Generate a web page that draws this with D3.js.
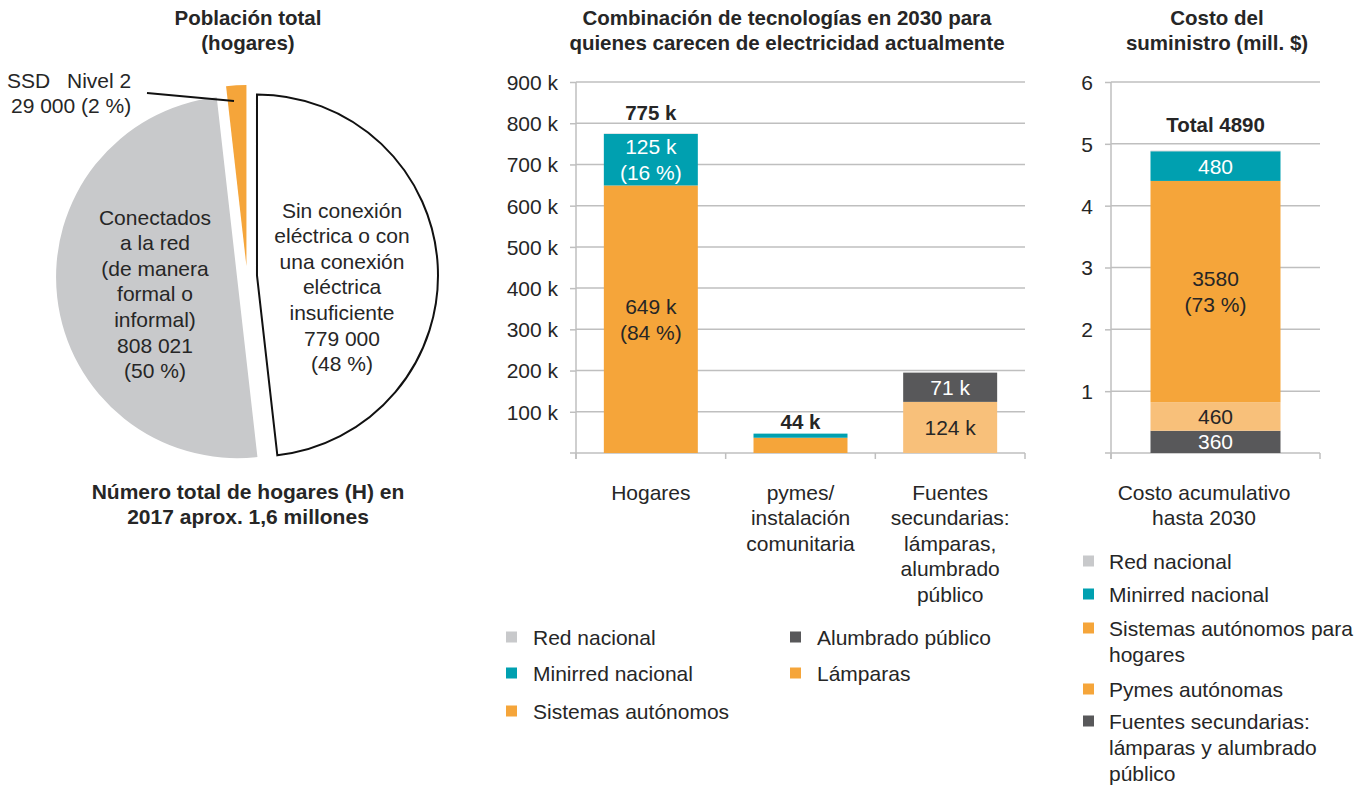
<!DOCTYPE html>
<html>
<head>
<meta charset="utf-8">
<script src="https://cdn.jsdelivr.net/npm/d3@7"></script>
<style>
body { margin: 0; background: #fff; }
svg text { font-family: "Liberation Sans", Arial, sans-serif; fill: #262626; }
.title { font-weight: bold; font-size: 20.5px; }
.lbl { font-size: 21px; }
.tick text { font-size: 21px; }
</style>
</head>
<body>
<svg id="chart" width="1366" height="787"></svg>
<script>
var colors = {
	grey: "#c8c9cb",
	teal: "#00a0b0",
	orange: "#f5a53a",
	lightorange: "#f8c07a",
	darkgrey: "#58585a",
	axis: "#bfbfbf",
	text: "#262626"
};

// pie: total households
var pieNames = ["Sin conexión", "Conectados", "SSD Nivel 2"];
var pieValues = [779000, 808021, 29000];
var pieFills = ["#ffffff", colors.grey, colors.orange];
var pieTexts = [
	["Sin conexión", "eléctrica o con", "una conexión", "eléctrica", "insuficiente", "779 000", "(48 %)"],
	["Conectados", "a la red", "(de manera", "formal o", "informal)", "808 021", "(50 %)"],
	[]
];

// middle chart: technology mix 2030 (thousands)
var midCategories = ["Hogares", "pymes", "Fuentes"];
var midCatLabels = [["Hogares"], ["pymes/", "instalación", "comunitaria"], ["Fuentes", "secundarias:", "lámparas,", "alumbrado", "público"]];
var midSistemas = [649, 37, 0];
var midLamparas = [0, 0, 124];
var midAlumbrado = [0, 0, 71];
var midMinirred = [125, 10, 0];
var midRed = [1, 0, 0];
var midTotals = ["775 k", "44 k", ""];
var midTicks = [100, 200, 300, 400, 500, 600, 700, 800, 900];

// right chart: cost (mill. $)
var costCategory = ["Costo acumulativo hasta 2030"];
var costFuentes = [360];
var costPymes = [460];
var costSistemas = [3580];
var costMinirred = [480];
var costRed = [10];
var costTicks = [1, 2, 3, 4, 5, 6];

var svg = d3.select("#chart");

function multiText(g, lines, x, y, lh, cls, fill){
	var t = g.append("text").attr("class", cls).attr("text-anchor", "middle");
	if (fill) t.style("fill", fill);
	lines.forEach(function(l, i){
		t.append("tspan").attr("x", x).attr("y", y + i * lh).text(l);
	});
	return t;
}

// ---------- PIE ----------
var pieG = svg.append("g").attr("transform", "translate(247,276)");
var radius = 181, explode = 10;
var pie = d3.pie().sort(null).startAngle(0).endAngle(2 * Math.PI);
var arc = d3.arc().innerRadius(0).outerRadius(radius);
var arcs = pie(pieValues);

arcs.forEach(function(d, i){
	var mid = (d.startAngle + d.endAngle) / 2;
	var dx = Math.sin(mid) * explode, dy = -Math.cos(mid) * explode;
	pieG.append("path")
		.attr("d", arc(d))
		.attr("transform", "translate(" + dx + "," + dy + ")")
		.style("fill", pieFills[i])
		.style("stroke", i == 0 ? "#111" : "none")
		.style("stroke-width", 2)
		.style("stroke-linejoin", "miter");
});

multiText(svg, pieTexts[0], 342, 217.5, 25.6, "lbl");
multiText(svg, pieTexts[1], 155, 224.5, 25.6, "lbl");

svg.append("text").attr("class", "lbl").attr("x", 7).attr("y", 87.5).text("SSD");
svg.append("text").attr("class", "lbl").attr("x", 67).attr("y", 87.5).text("Nivel 2");
svg.append("text").attr("class", "lbl").attr("x", 11).attr("y", 112.5).text("29 000 (2 %)");
svg.append("line")
	.attr("x1", 147).attr("y1", 93).attr("x2", 234).attr("y2", 101)
	.style("stroke", "#111").style("stroke-width", 2);

multiText(svg, ["Población total", "(hogares)"], 248, 25, 25, "title");
multiText(svg, ["Número total de hogares (H) en", "2017 aprox. 1,6 millones"], 248, 499, 25, "title")
	.style("font-size", "21px");

// ---------- stacked bar helper ----------
function drawAxes(g, x, y, ticks, fmt){
	var x0 = x.range()[0], x1 = x.range()[1];
	g.selectAll(".grid").data(ticks).enter().append("line")
		.attr("class", "grid")
		.attr("x1", x0).attr("x2", x1)
		.attr("y1", function(d){ return y(d); }).attr("y2", function(d){ return y(d); })
		.style("stroke", colors.axis).style("stroke-width", 1.5);

	var ya = g.append("g").attr("transform", "translate(" + x0 + ",0)")
		.call(d3.axisLeft(y).tickValues(ticks).tickSize(6).tickPadding(12).tickFormat(fmt));
	ya.select(".domain").remove();
	ya.selectAll(".tick line").style("stroke", colors.axis).style("stroke-width", 1.5);
	ya.selectAll(".tick text").style("font-family", "Liberation Sans, Arial, sans-serif").style("fill", colors.text).attr("dy", "0.35em");

	// vertical axis line
	g.append("line").attr("x1", x0).attr("x2", x0).attr("y1", y.range()[1]).attr("y2", y.range()[0] + 6)
		.style("stroke", colors.axis).style("stroke-width", 1.5);
	// baseline
	g.append("line").attr("x1", x0 - 6).attr("x2", x1).attr("y1", y(0)).attr("y2", y(0))
		.style("stroke", colors.axis).style("stroke-width", 1.5);
	// category tick marks
	var step = x.step();
	var bounds = d3.range(x.domain().length + 1).map(function(i){ return x0 + i * step; });
	g.selectAll(".ctick").data(bounds).enter().append("line")
		.attr("x1", function(d){ return d; }).attr("x2", function(d){ return d; })
		.attr("y1", y(0)).attr("y2", y(0) + 6)
		.style("stroke", colors.axis).style("stroke-width", 1.5);
}

// ---------- MIDDLE CHART ----------
var midG = svg.append("g");
var xm = d3.scaleBand().domain(midCategories).range([576, 1025]).paddingInner(0.372).paddingOuter(0.186);
var ym = d3.scaleLinear().domain([0, 900]).range([453, 82]);

drawAxes(midG, xm, ym, midTicks, function(d){ return d + " k"; });

var midKeys = ["sistemas", "lamparas", "alumbrado", "minirred", "red"];
var midFill = {sistemas: colors.orange, lamparas: colors.lightorange, alumbrado: colors.darkgrey, minirred: colors.teal, red: colors.grey};
var midRows = midCategories.map(function(c, i){
	return {cat: c, sistemas: midSistemas[i], lamparas: midLamparas[i], alumbrado: midAlumbrado[i], minirred: midMinirred[i], red: midRed[i]};
});
var midStack = d3.stack().keys(midKeys)(midRows);

midStack.forEach(function(s){
	midG.selectAll(".bar-" + s.key).data(s).enter().append("rect")
		.attr("x", function(d){ return xm(d.data.cat); })
		.attr("width", xm.bandwidth())
		.attr("y", function(d){ return ym(d[1]); })
		.attr("height", function(d){ return ym(d[0]) - ym(d[1]); })
		.style("fill", midFill[s.key]);
});

// segment labels
var midSegLabels = [
	{cat: "Hogares", key: "minirred", lines: ["125 k", "(16 %)"], fill: "#fff"},
	{cat: "Hogares", key: "sistemas", lines: ["649 k", "(84 %)"], fill: colors.text},
	{cat: "Fuentes", key: "alumbrado", lines: ["71 k"], fill: "#fff"},
	{cat: "Fuentes", key: "lamparas", lines: ["124 k"], fill: colors.text}
];
midSegLabels.forEach(function(l){
	var s = midStack.find(function(s){ return s.key == l.key; });
	var d = s[midCategories.indexOf(l.cat)];
	var cy = (ym(d[0]) + ym(d[1])) / 2 - (l.lines.length - 1) * 13;
	multiText(midG, l.lines, xm(l.cat) + xm.bandwidth() / 2, cy + 7.5, 26, "lbl", l.fill);
});

// total labels sit a bit above each stack (gap differs per bar, as in the original)
var totalGap = [14, 5, 0];
midCategories.forEach(function(c, i){
	var top = d3.max(midStack, function(s){ return s[i][1]; });
	if (midTotals[i]) {
		midG.append("text").attr("class", "title").attr("text-anchor", "middle")
			.attr("x", xm(c) + xm.bandwidth() / 2).attr("y", ym(top) - totalGap[i]).text(midTotals[i]);
	}
	multiText(midG, midCatLabels[i], xm(c) + xm.bandwidth() / 2, 499.5, 25.5, "lbl");
});

multiText(svg, ["Combinación de tecnologías en 2030 para", "quienes carecen de electricidad actualmente"], 787, 25, 25, "title");

// legend middle
var midLegendNames = ["Red nacional", "Minirred nacional", "Sistemas autónomos", "Alumbrado público", "Lámparas"];
var midLegendColors = [colors.grey, colors.teal, colors.orange, colors.darkgrey, colors.orange];
var midLegendPos = [[506, 637], [506, 673], [506, 711], [790, 637], [790, 673]];
midLegendNames.forEach(function(n, i){
	var p = midLegendPos[i];
	svg.append("rect").attr("x", p[0]).attr("y", p[1] - 5.5).attr("width", 11).attr("height", 11).style("fill", midLegendColors[i]);
	svg.append("text").attr("class", "lbl").attr("x", p[0] + 27).attr("y", p[1] + 7.5).text(n);
});

// ---------- RIGHT CHART ----------
var rG = svg.append("g");
var xr = d3.scaleBand().domain(costCategory).range([1111, 1320]).paddingInner(0.378).paddingOuter(0.189);
var yr = d3.scaleLinear().domain([0, 6]).range([453, 82]);

drawAxes(rG, xr, yr, costTicks, function(d){ return d; });

var costKeys = ["fuentes", "pymes", "sistemas", "minirred", "red"];
var costFill = {fuentes: colors.darkgrey, pymes: colors.lightorange, sistemas: colors.orange, minirred: colors.teal, red: colors.grey};
var costRows = costCategory.map(function(c, i){
	return {cat: c, fuentes: costFuentes[i] / 1000, pymes: costPymes[i] / 1000, sistemas: costSistemas[i] / 1000, minirred: costMinirred[i] / 1000, red: costRed[i] / 1000};
});
var costStack = d3.stack().keys(costKeys)(costRows);

costStack.forEach(function(s){
	rG.selectAll(".bar-" + s.key).data(s).enter().append("rect")
		.attr("x", function(d){ return xr(d.data.cat); })
		.attr("width", xr.bandwidth())
		.attr("y", function(d){ return yr(d[1]); })
		.attr("height", function(d){ return yr(d[0]) - yr(d[1]); })
		.style("fill", costFill[s.key]);
});

var costSegLabels = [
	{key: "minirred", lines: ["480"], fill: "#fff"},
	{key: "sistemas", lines: ["3580", "(73 %)"], fill: colors.text},
	{key: "pymes", lines: ["460"], fill: colors.text},
	{key: "fuentes", lines: ["360"], fill: "#fff"}
];
costSegLabels.forEach(function(l){
	var d = costStack.find(function(s){ return s.key == l.key; })[0];
	var cy = (yr(d[0]) + yr(d[1])) / 2 - (l.lines.length - 1) * 13;
	multiText(rG, l.lines, xr(costCategory[0]) + xr.bandwidth() / 2, cy + 7.5, 26, "lbl", l.fill);
});

var costTop = d3.max(costStack, function(s){ return s[0][1]; });
var costTotal = d3.sum([costFuentes[0], costPymes[0], costSistemas[0], costMinirred[0], costRed[0]]);
rG.append("text").attr("class", "title").attr("text-anchor", "middle")
	.attr("x", xr(costCategory[0]) + xr.bandwidth() / 2).attr("y", yr(costTop) - 19).text("Total " + costTotal);

multiText(rG, ["Costo acumulativo", "hasta 2030"], 1204, 499.5, 25.5, "lbl");
multiText(svg, ["Costo del", "suministro (mill. $)"], 1217, 25, 25, "title");

// legend right
var costLegend = [
	{name: ["Red nacional"], color: colors.grey, y: 561},
	{name: ["Minirred nacional"], color: colors.teal, y: 594},
	{name: ["Sistemas autónomos para", "hogares"], color: colors.orange, y: 628},
	{name: ["Pymes autónomas"], color: colors.orange, y: 689},
	{name: ["Fuentes secundarias:", "lámparas y alumbrado", "público"], color: colors.darkgrey, y: 721}
];
costLegend.forEach(function(l){
	svg.append("rect").attr("x", 1083).attr("y", l.y - 5.5).attr("width", 11).attr("height", 11).style("fill", l.color);
	var t = svg.append("text").attr("class", "lbl");
	l.name.forEach(function(n, i){
		t.append("tspan").attr("x", 1109).attr("y", l.y + 7.5 + i * 26).text(n);
	});
});
</script>
</body>
</html>
